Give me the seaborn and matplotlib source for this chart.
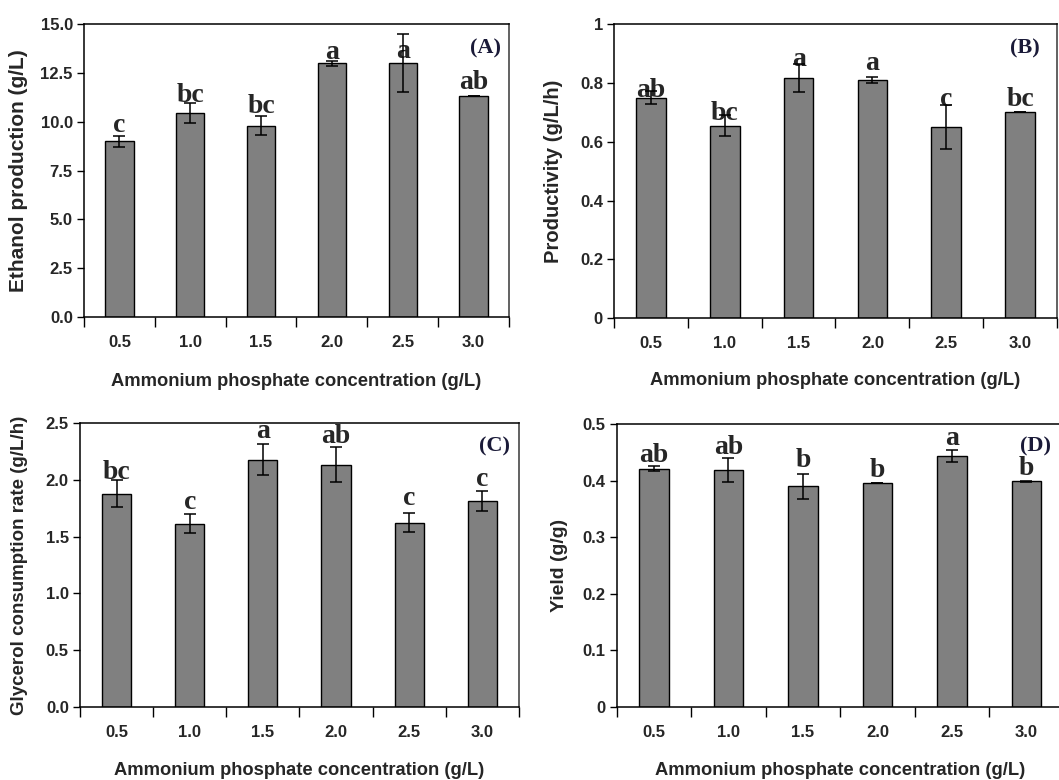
import matplotlib
matplotlib.use("Agg")
import matplotlib.pyplot as plt
import seaborn as sns
import numpy as np
import pandas as pd

# Ammonium phosphate concentrations (g/L)
concentrations = ["0.5", "1.0", "1.5", "2.0", "2.5", "3.0"]

# (A) Ethanol production (g/L)
ethanol = [9.0, 10.45, 9.8, 13.0, 13.0, 11.3]
ethanol_sd = [0.28, 0.5, 0.5, 0.13, 1.5, 0.0]
ethanol_letters = ["c", "bc", "bc", "a", "a", "ab"]

# (B) Productivity (g/L/h)
productivity = [0.75, 0.655, 0.817, 0.81, 0.65, 0.70]
productivity_sd = [0.021, 0.037, 0.048, 0.01, 0.074, 0.0]
productivity_letters = ["ab", "bc", "a", "a", "c", "bc"]

# (C) Glycerol consumption rate (g/L/h)
glycerol = [1.88, 1.615, 2.18, 2.136, 1.624, 1.815]
glycerol_sd = [0.116, 0.084, 0.135, 0.155, 0.087, 0.09]
glycerol_letters = ["bc", "c", "a", "ab", "c", "c"]

# (D) Yield (g/g)
yield_gg = [0.421, 0.419, 0.390, 0.395, 0.4435, 0.399]
yield_sd = [0.004, 0.021, 0.022, 0.0, 0.010, 0.001]
yield_letters = ["ab", "ab", "b", "b", "a", "b"]

# heights (data units) of the significance letters' baselines
ethanol_letter_y = [9.49, 11.02, 10.43, 13.19, 13.24, 11.66]
productivity_letter_y = [0.753, 0.674, 0.857, 0.844, 0.721, 0.721]
glycerol_letter_y = [2.007, 1.742, 2.374, 2.325, 1.778, 1.95]
yield_letter_y = [0.4334, 0.447, 0.4235, 0.4058, 0.463, 0.41]

sns.set_style("white")
plt.rcParams["font.family"] = ["Liberation Sans", "DejaVu Sans"]

fig = plt.figure(figsize=(10.59, 7.80), dpi=100)

panels = [
    dict(rect=[0.0793, 0.5936, 0.4013, 0.3756], vals=ethanol, sd=ethanol_sd,
         letters=ethanol_letters, ly=ethanol_letter_y, tag="(A)",
         ylabel="Ethanol production (g/L)", ylsize=15, ylim=(0, 15),
         yticks=[0, 2.5, 5, 7.5, 10, 12.5, 15], fmt="{:.1f}",
         tagpos=(0.944, 0.918), ylab_x=-0.132, xlab_y=-0.19),
    dict(rect=[0.5798, 0.5919, 0.4183, 0.3773], vals=productivity, sd=productivity_sd,
         letters=productivity_letters, ly=productivity_letter_y, tag="(B)",
         ylabel="Productivity (g/L/h)", ylsize=14.5, ylim=(0, 1),
         yticks=[0, 0.2, 0.4, 0.6, 0.8, 1.0], fmt="{:g}",
         tagpos=(0.928, 0.918), ylab_x=-0.115, xlab_y=-0.183),
    dict(rect=[0.0755, 0.094, 0.4145, 0.3633], vals=glycerol, sd=glycerol_sd,
         letters=glycerol_letters, ly=glycerol_letter_y, tag="(C)",
         ylabel="Glycerol consumption rate (g/L/h)", ylsize=13.5, ylim=(0, 2.5),
         yticks=[0, 0.5, 1.0, 1.5, 2.0, 2.5], fmt="{:.1f}",
         tagpos=(0.945, 0.918), ylab_x=-0.118, xlab_y=-0.195),
    dict(rect=[0.5823, 0.094, 0.4221, 0.3624], vals=yield_gg, sd=yield_sd,
         letters=yield_letters, ly=yield_letter_y, tag="(D)",
         ylabel="Yield (g/g)", ylsize=14, ylim=(0, 0.5),
         yticks=[0, 0.1, 0.2, 0.3, 0.4, 0.5], fmt="{:g}",
         tagpos=(0.936, 0.919), ylab_x=-0.109, xlab_y=-0.195),
]

for p in panels:
    ax = fig.add_axes(p["rect"])
    df = pd.DataFrame({"conc": concentrations, "value": p["vals"]})
    sns.barplot(data=df, x="conc", y="value", ax=ax, color="#808080",
                saturation=1, edgecolor="black", linewidth=1.0,
                width=0.4, errorbar=None)
    pos = np.arange(len(concentrations))
    ax.errorbar(pos, p["vals"], yerr=p["sd"], fmt="none", ecolor="black",
                elinewidth=1.1, capsize=4, capthick=1.1, zorder=5)

    for x, lab, y in zip(pos, p["letters"], p["ly"]):
        ax.text(x, y, lab, ha="center", va="baseline",
                fontfamily="Liberation Serif", fontweight="bold", fontsize=20)
    ax.text(p["tagpos"][0], p["tagpos"][1], p["tag"], transform=ax.transAxes,
            ha="center", va="center", fontfamily="Liberation Serif",
            fontweight="bold", fontsize=16, color="#1a1a38")

    ax.set_xlim(-0.5, len(concentrations) - 0.5)
    ax.set_ylim(*p["ylim"])

    # category boundaries carry the tick marks, labels sit at bar centres
    ax.set_xticks(np.arange(-0.5, len(concentrations)), labels=[""] * (len(concentrations) + 1))
    ax.set_xticks(pos, labels=concentrations, minor=True)
    ax.tick_params(axis="x", which="major", direction="out", length=7, width=1,
                   bottom=True, color="black")
    ax.tick_params(axis="x", which="minor", length=0, pad=13, labelsize=12)
    for t in ax.get_xticklabels(minor=True):
        t.set_fontweight("bold")

    ax.set_yticks(p["yticks"], labels=[p["fmt"].format(v) for v in p["yticks"]])
    ax.tick_params(axis="y", direction="out", length=5, width=1, left=True,
                   labelsize=12, pad=3, color="black")
    for t in ax.get_yticklabels():
        t.set_fontweight("bold")

    ax.set_xlabel("Ammonium phosphate concentration (g/L)", fontsize=13.2,
                  fontweight="bold")
    ax.set_ylabel(p["ylabel"], fontsize=p["ylsize"], fontweight="bold")
    ax.xaxis.set_label_coords(0.5, p["xlab_y"])
    ax.xaxis.label.set_va("top")
    ax.yaxis.set_label_coords(p["ylab_x"], 0.5)

    for side in ["left", "bottom", "top"]:
        ax.spines[side].set_color("black")
        ax.spines[side].set_linewidth(1.1)
    ax.spines["right"].set_color("#555555")
    ax.spines["right"].set_linewidth(1.3)

fig.savefig("out.png", dpi=100)
